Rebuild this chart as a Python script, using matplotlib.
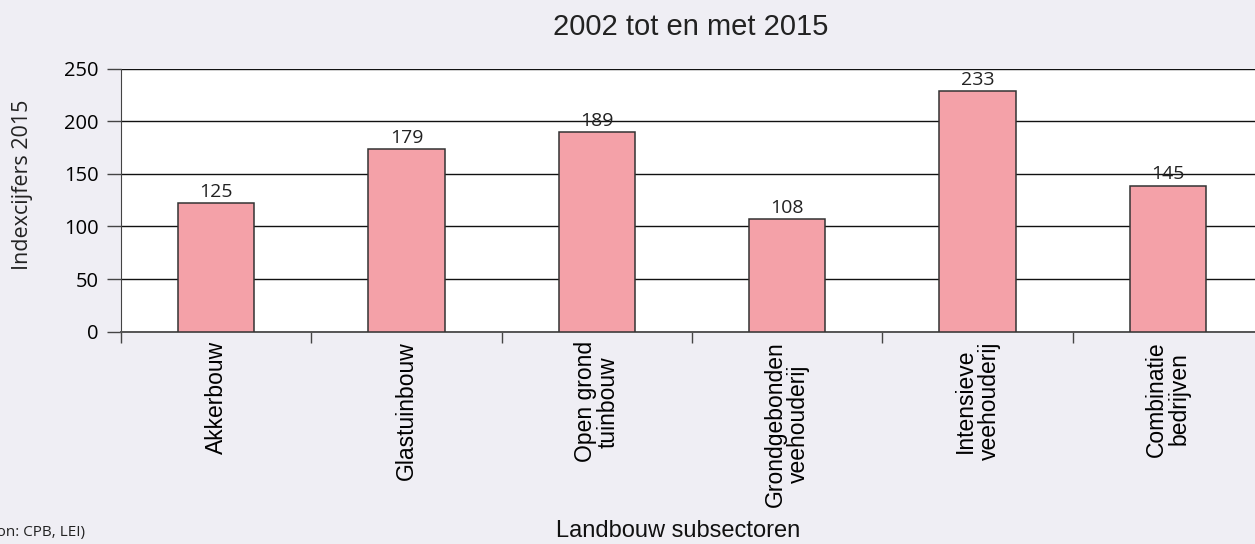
import numpy as np
import matplotlib.pyplot as plt
from matplotlib.ticker import FixedLocator

# data
categories = ["Akkerbouw", "Glastuinbouw", "Open grond\ntuinbouw",
              "Grondgebonden\nveehouderij", "Intensieve\nveehouderij",
              "Combinatie\nbedrijven"]
bar_heights = [122, 174, 190, 107, 229, 139]
bar_labels = ["125", "179", "189", "108", "233", "145"]
y_ticks = [0, 50, 100, 150, 200, 250]

BG = "#efeef4"
BAR = "#f4a1a8"

fig = plt.figure(figsize=(12.55, 5.44), dpi=100, facecolor=BG)
ax = fig.add_axes([0.0964, 0.3906, 0.91, 0.4826])
ax.set_facecolor("white")

x = np.arange(len(categories))
ax.bar(x, bar_heights, width=0.4, color=BAR, edgecolor="#333333",
       linewidth=1.1, zorder=3)
for xi, h, lab in zip(x, bar_heights, bar_labels):
    ax.text(xi, h + 2, lab, ha="center", va="bottom", fontsize=14,
            family="Open Sans", color="#222222", zorder=4)

ax.set_xlim(-0.5, len(categories) - 0.5)
ax.set_ylim(0, 250)
ax.set_yticks(y_ticks)
ax.set_yticklabels([str(t) for t in y_ticks], family="Open Sans", fontsize=14.5)
ax.yaxis.grid(True, color="#111111", linewidth=1.0, zorder=1)
ax.tick_params(axis="y", length=10, width=1, color="#444444", pad=6)

ax.set_xticks(x)
ax.set_xticklabels(categories, rotation=90, fontsize=16.5,
                   family="Liberation Sans", va="top", linespacing=1.02)
ax.tick_params(axis="x", length=0, pad=7)
ax.xaxis.set_minor_locator(FixedLocator(np.arange(-0.5, len(categories))))
ax.tick_params(axis="x", which="minor", length=8, width=1, color="#444444")

for s in ["top", "right"]:
    ax.spines[s].set_visible(False)
ax.spines["left"].set_color("#444444")
ax.spines["bottom"].set_color("#555555")
ax.spines["bottom"].set_linewidth(1.4)

# axis titles placed in figure coordinates
fig.text(0.018, 0.66, "Indexcijfers 2015", rotation=90, ha="center",
         va="center", family="Open Sans", fontsize=15.5, color="#222222")
fig.text(0.54, 0.024, "Landbouw subsectoren", ha="center", va="center",
         family="Liberation Sans", fontsize=17, color="#111111")

fig.text(0.55, 0.95, "2002 tot en met 2015", ha="center", va="center",
         fontsize=21, family="Liberation Sans", color="#222222")
fig.text(0.068, 0.022, "(Bron: CPB, LEI)", ha="right", va="center",
         fontsize=11, family="Open Sans", color="#222222")

fig.savefig("out.png", dpi=100, facecolor=BG)
